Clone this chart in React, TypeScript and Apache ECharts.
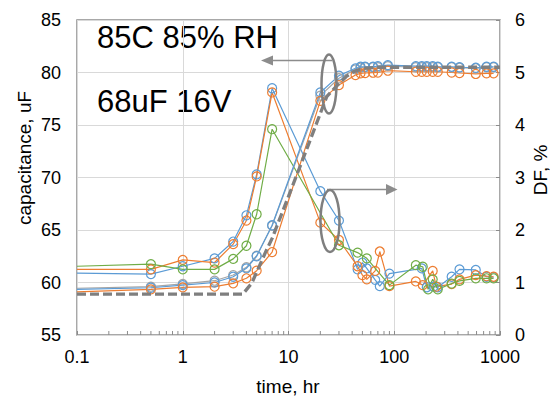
import React, { useEffect, useRef } from "react";
import * as echarts from "echarts";

// Capacitance (left axis, uF)
const capTimes = [0.1, 0.5, 1, 2, 3, 4, 5, 7, 20, 30, 43, 48, 53, 63, 70, 87, 160, 182, 203, 231, 258, 349, 414, 590, 746, 870];
const capBlue = [59.35, 59.5, 59.75, 60.0, 60.55, 61.35, 62.5, 65.45, 78.1, 79.7, 80.4, 80.55, 80.55, 80.55, 80.6, 80.7, 80.6, 80.6, 80.6, 80.6, 80.55, 80.55, 80.5, 80.45, 80.55, 80.55];
const capGrey = [59.45, 59.6, 59.86, 60.17, 60.71, 61.45, 62.55, 65.4, 77.8, 79.45, 80.3, 80.45, 80.5, 80.5, 80.5, 80.6, 80.5, 80.5, 80.5, 80.5, 80.5, 80.5, 80.45, 80.4, 80.5, 80.5];
const capOrange = [59.1, 59.35, 59.54, 59.6, 59.92, 60.4, 61.12, 62.9, 77.3, 78.8, 79.76, 79.92, 79.95, 79.98, 80.0, 80.17, 80.07, 80.07, 80.07, 80.07, 80.07, 80.0, 79.95, 79.86, 79.92, 79.92];

// Model curve (dashed)
const modelTimes = [0.1, 3.7, 4.5, 6.2, 7, 10, 15, 20, 23, 29, 35, 41, 51, 70, 1000];
const modelCap = [58.9, 58.9, 59.95, 63.1, 64.2, 68.2, 72.8, 76.1, 77.7, 78.8, 79.6, 80.07, 80.4, 80.5, 80.5];

// DF (right axis, %)
const dfBlueTimes = [0.1, 0.5, 1, 2, 3, 4, 5, 7, 20, 30, 45, 50, 55, 66, 73, 90, 182, 203, 235, 258, 349, 414, 590, 746, 870];
const dfBlue = [1.18, 1.16, 1.31, 1.46, 1.78, 2.28, 3.06, 4.70, 2.74, 2.18, 1.25, 1.38, 1.27, 1.05, 0.93, 1.17, 1.27, 0.91, 0.92, 0.91, 1.11, 1.25, 1.24, 1.11, 1.10];
const dfOrangeTimes = [0.1, 0.5, 1, 2, 3, 4, 5, 7, 20, 30, 45, 50, 55, 66, 73, 90, 160, 186, 231, 250, 349, 414, 590, 746, 870];
const dfOrange = [1.25, 1.25, 1.43, 1.38, 1.73, 2.18, 3.02, 4.62, 2.14, 1.81, 1.31, 1.14, 1.06, 1.22, 1.59, 0.93, 1.02, 0.95, 1.22, 0.92, 0.97, 1.06, 1.14, 1.12, 1.11];
const dfGreenTimes = [0.1, 0.5, 1, 2, 3, 4, 5, 7, 30, 45, 55, 90, 160, 186, 209, 231, 258, 349, 414, 590, 746, 870];
const dfGreen = [1.31, 1.35, 1.25, 1.25, 1.45, 1.70, 2.30, 3.92, 1.71, 1.57, 1.46, 0.95, 1.33, 1.30, 0.87, 1.06, 0.87, 0.98, 1.03, 1.08, 1.08, 1.08];

const minorTicks = [0.2, 0.3, 0.4, 0.5, 0.6, 0.7, 0.8, 0.9, 2, 3, 4, 5, 6, 7, 8, 9, 20, 30, 40, 50, 60, 70, 80, 90, 200, 300, 400, 500, 600, 700, 800, 900];

const FONT = "Liberation Sans, Arial, sans-serif";
const BLUE = "#5B9BD5";
const ORANGE = "#ED7D31";
const GREEN = "#70AD47";
const GREY = "#A5A5A5";
const DARK = "#7F7F7F";

function pts(times: number[], vals: number[]) {
  return times.map((t, i) =>
    i === 0 ? { value: [t, vals[i]], symbol: "none" } : [t, vals[i]]
  );
}

function markerSeries(name: string, times: number[], vals: number[], color: string, yAxisIndex: number) {
  return {
    name,
    type: "line",
    yAxisIndex,
    data: pts(times, vals),
    symbol: "circle",
    symbolSize: 9,
    showSymbol: true,
    lineStyle: { color, width: 1.2 },
    itemStyle: { color: "rgba(0,0,0,0)", borderColor: color, borderWidth: 1.2 },
    z: 3,
  };
}

function txt(text: string, size: number, extra: any) {
  return {
    type: "text",
    ...extra,
    style: {
      text, fontSize: size, fontFamily: FONT, fontWeight: "normal", fill: "#000",
      ...(extra.style || {}),
    },
  };
}

export default function App() {
  const ref = useRef<HTMLDivElement>(null);
  useEffect(() => {
    document.body.style.margin = "0";
    const chart = echarts.init(ref.current!, null, { renderer: "svg" });
    const option: any = {
      animation: false,
      backgroundColor: "#fff",
      grid: {
        left: 77, right: 50, top: 20, bottom: 62,
        show: true, borderColor: "#8c8c8c", borderWidth: 1.5,
        containLabel: false, outerBoundsMode: "none",
      },
      xAxis: {
        type: "log", logBase: 10, min: 0.1, max: 1000,
        axisLine: { show: false },
        axisTick: { show: true, inside: true, length: 4, lineStyle: { color: "#8c8c8c" } },
        splitLine: { show: true, lineStyle: { color: "#d9d9d9", width: 1 } },
        axisLabel: {
          color: "#000", fontSize: 18, fontFamily: FONT, margin: 13,
          formatter: (v: number) => String(+Number(v).toPrecision(3)),
        },
      },
      yAxis: [
        {
          type: "value", min: 55, max: 85, interval: 5, position: "left",
          axisLine: { show: false }, axisTick: { show: false },
          splitLine: { show: true, lineStyle: { color: "#d9d9d9", width: 1 } },
          axisLabel: { color: "#000", fontSize: 18, fontFamily: FONT, margin: 16 },
        },
        {
          type: "value", min: 0, max: 6, interval: 1, position: "right",
          axisLine: { show: false },
          axisTick: { show: true, inside: true, length: 4, lineStyle: { color: "#8c8c8c" } },
          splitLine: { show: false },
          axisLabel: { color: "#000", fontSize: 18, fontFamily: FONT, margin: 15 },
        },
      ],
      series: [
        {
          type: "custom", xAxisIndex: 0, yAxisIndex: 0, silent: true, clip: false, z: 5,
          data: minorTicks.map((t) => [t, 55]),
          renderItem: (_p: any, api: any) => {
            const p = api.coord([api.value(0), api.value(1)]);
            return {
              type: "line",
              shape: { x1: p[0], y1: p[1], x2: p[0], y2: p[1] - 4 },
              style: { stroke: "#8c8c8c", lineWidth: 1 },
            };
          },
        },
        markerSeries("DF blue", dfBlueTimes, dfBlue, BLUE, 1),
        markerSeries("DF orange", dfOrangeTimes, dfOrange, ORANGE, 1),
        markerSeries("DF green", dfGreenTimes, dfGreen, GREEN, 1),
        markerSeries("Cap grey", capTimes, capGrey, GREY, 0),
        markerSeries("Cap blue", capTimes, capBlue, BLUE, 0),
        markerSeries("Cap orange", capTimes, capOrange, ORANGE, 0),
        {
          name: "Model",
          type: "line",
          yAxisIndex: 0,
          data: modelTimes.map((t, i) => [t, modelCap[i]]),
          showSymbol: false,
          symbol: "none",
          lineStyle: { color: DARK, width: 3.3, type: [9, 4] },
          z: 4,
        },
      ],
      graphic: [
        txt("85C 85% RH", 31, { left: 97, top: 22 }),
        txt("68uF 16V", 31, { left: 97, top: 86 }),
        txt("time, hr", 19, { x: 288, y: 386, style: { align: "center", verticalAlign: "middle" } }),
        txt("capacitance, uF", 19, { x: 24, y: 158, rotation: Math.PI / 2, style: { align: "center", verticalAlign: "middle" } }),
        txt("DF, %", 19, { x: 540, y: 170, rotation: Math.PI / 2, style: { align: "center", verticalAlign: "middle" } }),
        // upper annotation (capacitance -> left axis)
        { type: "line", shape: { x1: 332, y1: 60.5, x2: 270, y2: 60.5 }, style: { stroke: "#8c8c8c", lineWidth: 1.6 }, z: 10 },
        { type: "polygon", shape: { points: [[261, 60.5], [273, 55.5], [273, 65.5]] }, style: { fill: "#8c8c8c" }, z: 10 },
        { type: "ellipse", shape: { cx: 329, cy: 84, rx: 7.5, ry: 29.5 }, style: { stroke: DARK, lineWidth: 2.5, fill: "none" }, z: 10 },
        // lower annotation (DF -> right axis)
        { type: "line", shape: { x1: 327, y1: 189.5, x2: 388, y2: 189.5 }, style: { stroke: "#8c8c8c", lineWidth: 1.6 }, z: 10 },
        { type: "polygon", shape: { points: [[397.5, 189.5], [386, 184], [386, 195]] }, style: { fill: "#8c8c8c" }, z: 10 },
        { type: "ellipse", shape: { cx: 330, cy: 221, rx: 9.5, ry: 31 }, style: { stroke: DARK, lineWidth: 2.5, fill: "none" }, z: 10 },
      ],
    };
    chart.setOption(option);
    return () => chart.dispose();
  }, []);
  return <div ref={ref} style={{ width: 550, height: 397 }} />;
}
